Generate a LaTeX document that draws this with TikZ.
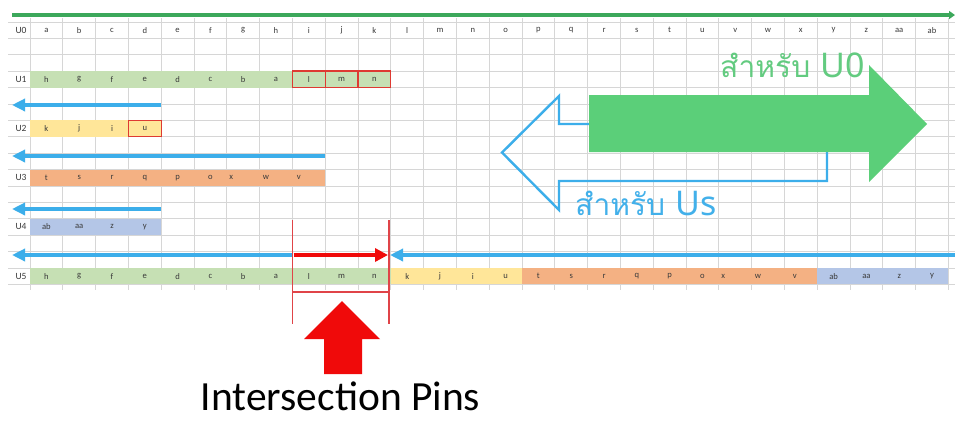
\documentclass[tikz,border=0pt]{standalone}
\usepackage{fontspec}
\setmainfont{Carlito}
\newfontfamily\thaifont[Script=Thai]{Loma}
\newfontfamily\latinfont{Noto Sans}
\usetikzlibrary{arrows.meta}

\definecolor{gridgrey}{HTML}{D6D6D6}
\definecolor{topgreen}{HTML}{3CA85B}
\definecolor{biggreen}{HTML}{5BCF79}
\definecolor{textgreen}{HTML}{63CB80}
\definecolor{arrowblue}{HTML}{3CAEEA}
\definecolor{textblue}{HTML}{42B0EA}
\definecolor{pinred}{HTML}{F00A0A}
\definecolor{boxred}{HTML}{DE3A32}
\definecolor{bracketred}{HTML}{E04448}
\definecolor{cellgreen}{HTML}{C6E0B4}
\definecolor{cellyellow}{HTML}{FFE699}
\definecolor{cellorange}{HTML}{F4B183}
\definecolor{cellblue}{HTML}{B4C6E7}
\definecolor{celltext}{HTML}{3A3A3A}

% column / row geometry of the sheet (in pt, y grows downwards)
\newcommand{\colx}[1]{30+32.8*(#1)}
\newcommand{\rowy}[1]{21.9+16.4*(#1)}

\tikzset{
  cell/.style={font=\fontsize{8.6}{9}\selectfont, text=celltext, inner sep=0pt},
  rowlabel/.style={font=\fontsize{9.5}{10}\selectfont, text=celltext, inner sep=0pt},
  gridline/.style={draw=gridgrey, line width=0.8pt},
  bluearrow/.style={draw=arrowblue, line width=3.6pt, -{Triangle[length=13pt,width=12pt]}},
  redbox/.style={draw=boxred, line width=1.3pt},
}

% fill a band of cells: #1 colour, #2 row, #3 first column, #4 last column
\newcommand{\band}[4]{\fill[#1] ({\colx{#3}},{\rowy{#2}}) rectangle ({\colx{#4+1}},{\rowy{#2+1}});}

\begin{document}
\begin{tikzpicture}[x=1pt,y=-1pt]
\useasboundingbox (0,0) rectangle (955,421);
\fill[white] (0,0) rectangle (955,421);

% sheet grid
\foreach \k in {0,...,16}
  \draw[gridline] (8,{\rowy{\k}}) -- (955,{\rowy{\k}});
\foreach \i in {0,...,28}
  \draw[gridline] ({\colx{\i}},18) -- ({\colx{\i}},290);

% coloured cell bands
\band{cellgreen}{3}{0}{10}
\band{cellyellow}{6}{0}{3}
\band{cellorange}{9}{0}{8}
\band{cellblue}{12}{0}{3}
\band{cellgreen}{15}{0}{10}
\band{cellyellow}{15}{11}{14}
\band{cellorange}{15}{15}{23}
\band{cellblue}{15}{24}{27}

% highlighted cells
\foreach \i in {8,9,10}
  \draw[redbox] ({\colx{\i}},{\rowy{3}}) rectangle ({\colx{\i+1}},{\rowy{4}});
\draw[redbox] ({\colx{3}},{\rowy{6}}) rectangle ({\colx{4}},{\rowy{7}});

% row labels
\foreach \r/\k in {0/0,1/3,2/6,3/9,4/12,5/15}
  \node[rowlabel] (lab\r) at (21,{\rowy{\k+0.5}}) {U\r};

% header row U0
\foreach \t [count=\i from 0] in {a,b,c,d,e,f,g,h,i,j,k,l,m,n,o,p,q,r,s,t,u,v,w,x,y,z,aa,ab}
  \node[cell] (hd\i) at ({\colx{\i+0.5}},{\rowy{0.5}}) {\t};

% U1
\foreach \t [count=\i from 0] in {h,g,f,e,d,c,b,a,l,m,n}
  \node[cell] (ua\i) at ({\colx{\i+0.5}},{\rowy{3.5}}) {\t};
% U2
\foreach \t [count=\i from 0] in {k,j,i,u}
  \node[cell] (ub\i) at ({\colx{\i+0.5}},{\rowy{6.5}}) {\t};
% U3
\foreach \t/\dx [count=\i from 0] in {t/0,s/0,r/0,q/0,p/0,o/0,x/-12,w/-10,v/-10}
  \node[cell] (uc\i) at ({\colx{\i+0.5}+\dx},{\rowy{9.5}}) {\t};
% U4
\foreach \t [count=\i from 0] in {ab,aa,z,y}
  \node[cell] (ud\i) at ({\colx{\i+0.5}},{\rowy{12.5}}) {\t};
% U5
\foreach \t/\dx [count=\i from 0] in {h/0,g/0,f/0,e/0,d/0,c/0,b/0,a/0,l/0,m/0,n/0,k/0,j/0,i/0,u/0,t/0,s/0,r/0,q/0,p/0,o/0,x/-12,w/-10,v/-6,ab/0,aa/0,z/0,y/0}
  \node[cell] (ue\i) at ({\colx{\i+0.5}+\dx},{\rowy{15.5}}) {\t};

% top green axis
\coordinate (axisL) at (12,15);
\coordinate (axisR) at (955,15);
\draw[draw=topgreen, line width=3.4pt, -{Triangle[length=6pt,width=8pt]}] (axisL) -- (axisR);

% blue shift arrows
\coordinate (bL2) at (12,105);   \coordinate (bR2) at ({\colx{4}},105);
\coordinate (bL3) at (12,156);   \coordinate (bR3) at ({\colx{9}},156);
\coordinate (bL4) at (12,209);   \coordinate (bR4) at ({\colx{4}},209);
\coordinate (bL5) at (12,255);   \coordinate (bM5) at ({\colx{8}},255);
\coordinate (bE5) at (955,255);  \coordinate (bT5) at (390,255);
\draw[bluearrow] (bR2) -- (bL2);
\draw[bluearrow] (bR3) -- (bL3);
\draw[bluearrow] (bR4) -- (bL4);
\draw[bluearrow] (bM5) -- (bL5);
\draw[bluearrow] (bE5) -- (bT5);

% intersection bracket
\coordinate (brL) at (292.6,220);  \coordinate (brLb) at (292.6,324);
\coordinate (brR) at (389,220);    \coordinate (brRb) at (389,324);
\coordinate (brML) at (292.6,292); \coordinate (brMR) at (389,292);
\draw[bracketred, line width=1.2pt] (brL) -- (brLb) (brR) -- (brRb) (brML) -- (brMR);
\coordinate (rS) at (293.5,255); \coordinate (rE) at (388,255);
\draw[draw=pinred, line width=4.5pt, -{Triangle[length=13pt,width=13pt]}] (rS) -- (rE);

% big outlined arrow (Us) and filled arrow (U0)
\draw[arrowblue, line width=2.4pt, line join=miter]
  (502,152.5) -- (559,96) -- (559,124) -- (827,124) -- (827,181)
  -- (559,181) -- (559,210) -- cycle;
\fill[biggreen]
  (589,95) -- (869,95) -- (869,65) -- (927,124) -- (869,182)
  -- (869,152) -- (589,152) -- cycle;

\node[anchor=base west, inner sep=0pt, text=textgreen] (forU0) at (720,77)
  {\thaifont\fontsize{30}{34}\selectfont สำหรับ\ \latinfont\fontsize{34}{38}\selectfont U0};
\node[anchor=base west, inner sep=0pt, text=textblue] (forUs) at (575,215)
  {\thaifont\fontsize{30}{34}\selectfont สำหรับ\ \latinfont\fontsize{34}{38}\selectfont Us};

% pins pointer
\fill[pinred] (342,301) -- (380,339) -- (362,339) -- (362,374)
  -- (324,374) -- (324,339) -- (304,339) -- cycle;
\node[anchor=base, inner sep=0pt, font=\fontsize{41.5}{44}\selectfont] (pins) at (340.5,410)
  {Intersection Pins};
\end{tikzpicture}
\end{document}
